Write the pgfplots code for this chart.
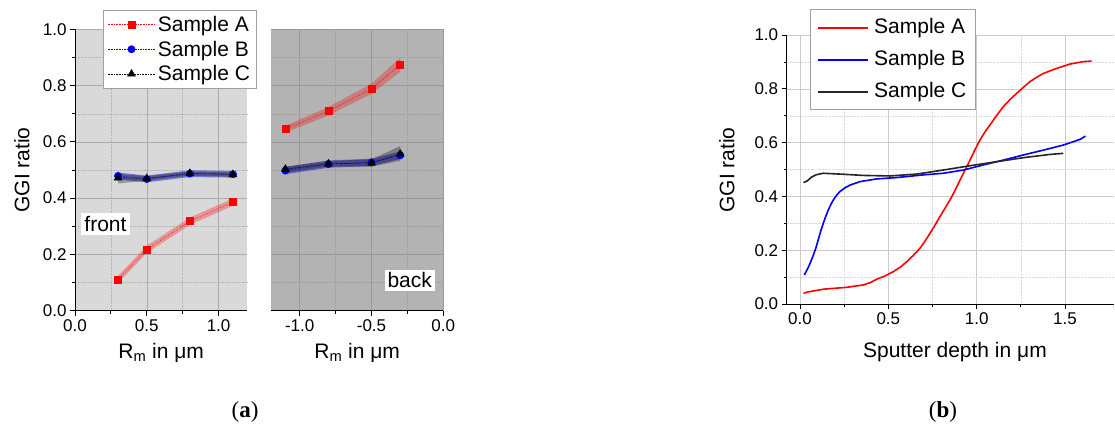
\documentclass[border=0pt]{standalone}
\usepackage{fontspec}
\setmainfont{Liberation Sans}
\newfontfamily\capfont{Liberation Serif}
\usepackage{pgfplots}
\pgfplotsset{compat=1.18}

\definecolor{frontbg}{HTML}{D9D9D9}
\definecolor{backbg}{HTML}{B3B3B3}
\definecolor{gridA}{HTML}{AAAAAA}
\definecolor{gridB}{HTML}{999999}
\definecolor{gridC}{HTML}{CCCCCC}
\definecolor{legframe}{HTML}{A0A0A0}
\definecolor{bandblue}{HTML}{2A2AC0}
\definecolor{curveC}{HTML}{262626}

\pgfplotsset{
  panel/.style={
    scale only axis, ymin=0, ymax=1,
    axis x line*=bottom, axis y line*=left,
    axis line style={-, black, line width=0.8pt},
    tick align=outside, major tick length=5pt, minor tick length=3pt,
    tick style={black, line width=0.8pt},
    ytick={0,0.2,0.4,0.6,0.8,1},
    minor y tick num=1, minor x tick num=1,
    grid=both,
    tick label style={font=\fontsize{17}{17}\selectfont},
    label style={font=\fontsize{21}{21}\selectfont},
    /pgf/number format/assume math mode=true,
    /pgf/number format/fixed,
    /pgf/number format/fixed zerofill,
    /pgf/number format/precision=1,
  },
  serA/.style={draw=red, densely dotted, line width=#1, mark=square*, mark size=3.5pt, mark options={solid, fill=red, draw=red}},
  serB/.style={draw=blue, densely dotted, line width=#1, mark=*, mark size=3.6pt, mark options={solid, fill=blue, draw=blue}},
  serC/.style={draw=black, densely dotted, line width=#1, mark=triangle*, mark size=4.4pt, mark options={solid, fill=black, draw=black}},
}

\begin{document}
\begin{tikzpicture}
\useasboundingbox (0,0) rectangle (1115pt,426pt);

% (a) front
\begin{axis}[panel,
  at={(75pt,115.3pt)}, anchor=south west,
  width=172.3pt, height=281.4pt,
  xmin=0, xmax=1.2, xtick={0,0.5,1.0},
  axis background/.style={fill=frontbg},
  major grid style={gridA, line width=0.5pt},
  minor grid style={gridA!70!frontbg, densely dotted, line width=0.4pt},
  ylabel={GGI ratio},
  ylabel style={at={(axis description cs:-0.309,0.5)}, anchor=center},
  xlabel={R\textsubscript{m} in μm},
  xlabel style={at={(axis description cs:0.5,-0.149)}, anchor=center},
  legend cell align=left,
  legend style={at={(0.1625,1.0686)}, anchor=north west, draw=legframe, fill=white,
    font=\fontsize{21}{21}\selectfont, row sep=4pt, inner ysep=4pt, inner xsep=4pt},
  legend image code/.code={%
    \draw[#1, mark repeat=2, mark phase=2] plot coordinates {(0pt,0pt) (24pt,0pt) (48pt,0pt)};},
]
\addplot[fill=red, opacity=0.3, draw=none, forget plot] coordinates {
(0.3,0.124) (0.5,0.231) (0.8,0.331) (1.1,0.399)
(1.1,0.373) (0.8,0.305) (0.5,0.205) (0.3,0.098)} -- cycle;
\addplot[fill=bandblue, opacity=0.55, draw=none, forget plot] coordinates {
(0.3,0.491) (0.5,0.480) (0.8,0.499) (1.1,0.497)
(1.1,0.473) (0.8,0.475) (0.5,0.456) (0.3,0.467)} -- cycle;
\addplot[fill=black, opacity=0.3, draw=none, forget plot] coordinates {
(0.3,0.486) (0.5,0.478) (0.8,0.495) (1.1,0.492)
(1.1,0.476) (0.8,0.480) (0.5,0.462) (0.3,0.452)} -- cycle;
\addplot[serA=0.60pt] coordinates {(0.3,0.111) (0.5,0.218) (0.8,0.318) (1.1,0.386)};
\addplot[serB=0.61pt] coordinates {(0.3,0.479) (0.5,0.468) (0.8,0.487) (1.1,0.485)};
\addplot[serC=0.62pt] coordinates {(0.3,0.472) (0.5,0.470) (0.8,0.488) (1.1,0.484)};
\legend{Sample A, Sample B, Sample C}
\node[fill=white, inner sep=3pt, font=\fontsize{21}{21}\selectfont] at (rel axis cs:0.177,0.308) {front};
\end{axis}

% (a) back
\begin{axis}[panel,
  at={(271pt,115.3pt)}, anchor=south west,
  width=172.3pt, height=281.4pt,
  xmin=-1.2, xmax=0, xtick={-1.0,-0.5,0.0},
  y axis line style={draw=none},
  ytick style={draw=none}, yticklabels={},
  minor y tick style={draw=none},
  axis background/.style={fill=backbg},
  major grid style={gridB, line width=0.5pt},
  minor grid style={gridB!70!backbg, densely dotted, line width=0.4pt},
  xlabel={R\textsubscript{m} in μm},
  xlabel style={at={(axis description cs:0.5,-0.149)}, anchor=center},
]
\addplot[fill=red, opacity=0.3, draw=none] coordinates {
(-1.1,0.657) (-0.8,0.724) (-0.5,0.807) (-0.3,0.899)
(-0.3,0.849) (-0.5,0.771) (-0.8,0.694) (-1.1,0.633)} -- cycle;
\addplot[fill=bandblue, opacity=0.55, draw=none] coordinates {
(-1.1,0.511) (-0.8,0.534) (-0.5,0.540) (-0.3,0.565)
(-0.3,0.539) (-0.5,0.514) (-0.8,0.508) (-1.1,0.485)} -- cycle;
\addplot[fill=black, opacity=0.3, draw=none] coordinates {
(-1.1,0.512) (-0.8,0.532) (-0.5,0.538) (-0.3,0.585)
(-0.3,0.533) (-0.5,0.512) (-0.8,0.512) (-1.1,0.490)} -- cycle;
\addplot[serA=0.63pt] coordinates {(-1.1,0.645) (-0.8,0.709) (-0.5,0.789) (-0.3,0.874)};
\addplot[serB=0.64pt] coordinates {(-1.1,0.498) (-0.8,0.521) (-0.5,0.527) (-0.3,0.552)};
\addplot[serC=0.65pt] coordinates {(-1.1,0.503) (-0.8,0.522) (-0.5,0.525) (-0.3,0.557)};
\node[fill=white, inner sep=3pt, font=\fontsize{21}{21}\selectfont] at (rel axis cs:0.805,0.108) {back};
\end{axis}

% (b)
\begin{axis}[panel,
  at={(786.7pt,122pt)}, anchor=south west,
  width=327.3pt, height=269pt,
  xmin=-0.075, xmax=1.777, xtick={0,0.5,1.0,1.5},
  major grid style={gridC, line width=0.5pt},
  minor grid style={gridC!70!white, densely dotted, line width=0.4pt},
  ylabel={GGI ratio},
  ylabel style={at={(axis description cs:-0.183,0.498)}, anchor=center},
  xlabel={Sputter depth in μm},
  xlabel style={at={(axis description cs:0.514,-0.177)}, anchor=center},
]
\addplot[draw=red, solid, line width=1.60pt, line join=round, mark=none] coordinates {
(0.02,0.040) (0.047,0.045) (0.132,0.055) (0.264,0.062) (0.36,0.071) (0.40,0.080) (0.434,0.092)
(0.48,0.104) (0.528,0.120) (0.57,0.138) (0.604,0.157) (0.64,0.180) (0.679,0.207) (0.71,0.236) (0.736,0.263) (0.765,0.294) (0.792,0.325)
(0.82,0.355) (0.849,0.387) (0.878,0.423) (0.906,0.461) (0.934,0.498) (0.962,0.535) (0.99,0.573) (1.019,0.610) (1.047,0.640) (1.075,0.665)
(1.113,0.701) (1.151,0.734) (1.19,0.761) (1.226,0.783) (1.265,0.806) (1.302,0.827) (1.34,0.843) (1.377,0.857) (1.453,0.876)
(1.528,0.892) (1.604,0.901) (1.65,0.903)};
\addplot[draw=blue, solid, line width=1.61pt, line join=round, mark=none] coordinates {
(0.025,0.108) (0.05,0.140) (0.075,0.180) (0.09,0.208) (0.104,0.240) (0.118,0.272) (0.132,0.300) (0.146,0.326) (0.16,0.349)
(0.175,0.370) (0.189,0.387) (0.207,0.404) (0.226,0.418) (0.255,0.432) (0.283,0.442) (0.34,0.455) (0.434,0.465)
(0.547,0.470) (0.698,0.480) (0.811,0.486) (0.925,0.498) (1.038,0.517)
(1.151,0.535) (1.264,0.554) (1.377,0.572) (1.491,0.591) (1.585,0.612) (1.615,0.624)};
\addplot[draw=curveC, solid, line width=1.62pt, line join=round, mark=none] coordinates {
(0.02,0.451) (0.042,0.458) (0.066,0.472) (0.094,0.481) (0.132,0.486) (0.226,0.483)
(0.358,0.478) (0.509,0.476) (0.66,0.483) (0.811,0.498) (0.962,0.514)
(1.113,0.529) (1.264,0.544) (1.415,0.556) (1.49,0.560)};
\end{axis}

% legend of (b), drawn by hand
\node[draw=legframe, fill=white, line width=0.6pt, minimum width=165pt, minimum height=99.7pt, inner sep=0pt, anchor=north west] at (810pt,416.7pt) {};
\draw[draw=red, line width=1.63pt] (818pt,397.7pt) -- (868pt,397.7pt);
\draw[draw=blue, line width=1.64pt] (818pt,366pt) -- (868pt,366pt);
\draw[draw=curveC, line width=1.65pt] (818pt,334.3pt) -- (868pt,334.3pt);
\node[anchor=west, inner sep=0pt, font=\fontsize{21}{21}\selectfont] at (874pt,397.7pt) {Sample A};
\node[anchor=west, inner sep=0pt, font=\fontsize{21}{21}\selectfont] at (874pt,366pt) {Sample B};
\node[anchor=west, inner sep=0pt, font=\fontsize{21}{21}\selectfont] at (874pt,334.3pt) {Sample C};

\node[font=\capfont\fontsize{23}{23}\selectfont] at (245pt,14.3pt) {(\textbf{a})};
\node[font=\capfont\fontsize{23}{23}\selectfont] at (943pt,14.3pt) {(\textbf{b})};
\end{tikzpicture}
\end{document}
